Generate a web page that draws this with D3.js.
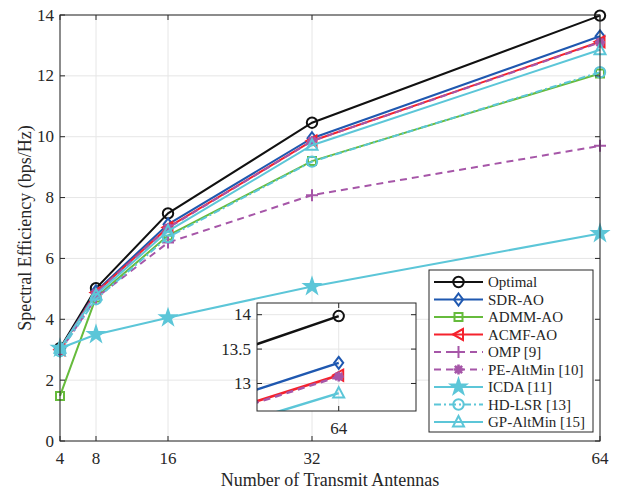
<!DOCTYPE html>
<html>
<head>
<meta charset="utf-8">
<script src="https://cdn.jsdelivr.net/npm/d3@7"></script>
<style>
  body { margin: 0; background: #fff; }
</style>
</head>
<body>
<div id="chart"></div>
<script>
// Data
const antennas = [4, 8, 16, 32, 64];
const optimal  = [3.05, 5.02, 7.48, 10.46, 13.98];
const sdrAO    = [3.0, 4.92, 7.12, 9.95, 13.3];
const admmAO   = [1.48, 4.72, 6.75, 9.2, 12.08];
const acmfAO   = [3.0, 4.88, 7.02, 9.86, 13.12];
const omp      = [2.95, 4.7, 6.52, 8.08, 9.7];
const peAltMin = [3.0, 4.86, 7.0, 9.86, 13.1];
const icda     = [3.05, 3.5, 4.05, 5.08, 6.82];
const hdLSR    = [2.95, 4.66, 6.7, 9.18, 12.12];
const gpAltMin = [3.05, 4.8, 6.9, 9.72, 12.86];

const xTicks = [4, 8, 16, 32, 64];
const yTicks = [0, 2, 4, 6, 8, 10, 12, 14];
const insetYTicks = [13, 13.5, 14];
const insetXTicks = [64];

const series = [
  {name: "Optimal",          values: optimal,  color: "#111111", dash: null,    marker: "circle"},
  {name: "SDR-AO",           values: sdrAO,    color: "#1f58b0", dash: null,    marker: "diamond"},
  {name: "ADMM-AO",          values: admmAO,   color: "#66bb3c", dash: null,    marker: "square"},
  {name: "ACMF-AO",          values: acmfAO,   color: "#f5222d", dash: null,    marker: "tri-left"},
  {name: "OMP [9]",          values: omp,      color: "#a656a8", dash: "7,5",   marker: "plus"},
  {name: "PE-AltMin [10]",   values: peAltMin, color: "#a656a8", dash: "7,5",   marker: "asterisk"},
  {name: "ICDA [11]",        values: icda,     color: "#5cc6d8", dash: null,    marker: "star"},
  {name: "HD-LSR [13]",      values: hdLSR,    color: "#5cc6d8", dash: "7,3,2,3", marker: "circle"},
  {name: "GP-AltMin [15]",   values: gpAltMin, color: "#5cc6d8", dash: null,    marker: "tri-up"}
];

const W = 622, H = 492;
const plot = {left: 60, right: 600, top: 15, bottom: 441};
const FONT = "'Liberation Serif', 'Times New Roman', Times, serif";

const svg = d3.select("#chart").append("svg")
    .attr("width", W)
    .attr("height", H)
    .attr("font-family", FONT);

const x = d3.scaleLinear().domain([4, 64]).range([plot.left, plot.right]);
const y = d3.scaleLinear().domain([0, 14]).range([plot.bottom, plot.top]);

function markerPath(type) {
  switch (type) {
    case "circle": return d3.symbol(d3.symbolCircle, 85)();
    case "square": return "M-4,-4H4V4H-4Z";
    case "diamond": return "M0,-6L4.5,0L0,6L-4.5,0Z";
    case "tri-left": return "M-5.5,0L4.5,-5.5L4.5,5.5Z";
    case "tri-up": return "M0,-6L5.5,4.5L-5.5,4.5Z";
    case "plus": return "M-6,0H6M0,-6V6";
    case "asterisk": return "M-5,0H5M0,-5V5M-3.6,-3.6L3.6,3.6M-3.6,3.6L3.6,-3.6";
    case "star": return d3.symbol(d3.symbolStar, 70)();
  }
}

function drawMarker(g, s, px, py) {
  const filled = s.marker === "star" || s.marker === "asterisk";
  g.append("path")
    .attr("transform", `translate(${px},${py})`)
    .attr("d", markerPath(s.marker))
    .attr("fill", filled ? s.color : "none")
    .attr("stroke", s.color)
    .attr("stroke-width", s.marker === "asterisk" ? 2.6 : 2);
}

function drawGrid(g, xs, ys, xt, yt) {
  const [x0, x1] = xs.range();
  const [y0, y1] = ys.range();
  g.append("g").selectAll("line").data(xt).join("line")
    .attr("x1", d => xs(d)).attr("x2", d => xs(d))
    .attr("y1", y0).attr("y2", y1)
    .attr("stroke", "#e6e6e6").attr("stroke-width", 1);
  g.append("g").selectAll("line").data(yt).join("line")
    .attr("x1", x0).attr("x2", x1)
    .attr("y1", d => ys(d)).attr("y2", d => ys(d))
    .attr("stroke", "#e6e6e6").attr("stroke-width", 1);
}

function drawFrame(g, xs, ys, xt, yt, fs, xlabOff) {
  const [x0, x1] = xs.range();
  const [y0, y1] = ys.range();
  const tl = 5;
  g.append("rect")
    .attr("x", x0).attr("y", y1)
    .attr("width", x1 - x0).attr("height", y0 - y1)
    .attr("fill", "none").attr("stroke", "#262626").attr("stroke-width", 1);
  // ticks inward on all four sides
  xt.forEach(t => {
    g.append("line").attr("x1", xs(t)).attr("x2", xs(t)).attr("y1", y0).attr("y2", y0 - tl)
      .attr("stroke", "#262626");
    g.append("line").attr("x1", xs(t)).attr("x2", xs(t)).attr("y1", y1).attr("y2", y1 + tl)
      .attr("stroke", "#262626");
  });
  yt.forEach(t => {
    g.append("line").attr("x1", x0).attr("x2", x0 + tl).attr("y1", ys(t)).attr("y2", ys(t))
      .attr("stroke", "#262626");
    g.append("line").attr("x1", x1).attr("x2", x1 - tl).attr("y1", ys(t)).attr("y2", ys(t))
      .attr("stroke", "#262626");
  });
  g.append("g").selectAll("text").data(xt).join("text")
    .attr("x", d => xs(d)).attr("y", y0 + xlabOff)
    .attr("text-anchor", "middle")
    .attr("fill", "#262626")
    .style("font-size", fs + "px")
    .text(d => d);
  g.append("g").selectAll("text").data(yt).join("text")
    .attr("x", x0 - 6).attr("y", d => ys(d) + 5.5)
    .attr("text-anchor", "end")
    .attr("fill", "#262626")
    .style("font-size", fs + "px")
    .text(d => d);
}

// Main axes
const main = svg.append("g");
drawGrid(main, x, y, xTicks, yTicks);

const line = d3.line()
  .x((d, i) => x(antennas[i]))
  .y(d => y(d));

series.forEach(s => {
  main.append("path")
    .attr("d", line(s.values))
    .attr("fill", "none")
    .attr("stroke", s.color)
    .attr("stroke-width", 2)
    .attr("stroke-dasharray", s.dash);
  s.values.forEach((v, i) => drawMarker(main, s, x(antennas[i]), y(v)));
});

drawFrame(main, x, y, xTicks, yTicks, 17, 23);

// Axis titles
svg.append("text")
  .attr("x", (plot.left + plot.right) / 2).attr("y", 486)
  .attr("text-anchor", "middle")
  .attr("fill", "#262626")
  .style("font-size", "18px")
  .text("Number of Transmit Antennas");
svg.append("text")
  .attr("transform", `translate(31,${(plot.top + plot.bottom) / 2}) rotate(-90)`)
  .attr("text-anchor", "middle")
  .attr("fill", "#262626")
  .style("font-size", "18px")
  .text("Spectral Efficiency (bps/Hz)");

// Inset zoom
const ix = d3.scaleLinear().domain([60.3, 67.5]).range([257, 416]);
const iy = d3.scaleLinear().domain([12.6, 14.17]).range([411, 303]);
const inset = svg.append("g");
inset.append("rect")
  .attr("x", 257).attr("y", 303).attr("width", 159).attr("height", 108)
  .attr("fill", "#fff");
drawGrid(inset, ix, iy, insetXTicks, insetYTicks);
svg.append("clipPath").attr("id", "insetClip")
  .append("rect").attr("x", 257).attr("y", 303).attr("width", 159).attr("height", 108);
const insetData = inset.append("g").attr("clip-path", "url(#insetClip)");
const iline = d3.line()
  .x((d, i) => ix(antennas[i]))
  .y(d => iy(d));
series.forEach(s => {
  insetData.append("path")
    .attr("d", iline(s.values))
    .attr("fill", "none")
    .attr("stroke", s.color)
    .attr("stroke-width", 2.5)
    .attr("stroke-dasharray", s.dash);
  s.values.forEach((v, i) => drawMarker(insetData, s, ix(antennas[i]), iy(v)));
});
drawFrame(inset, ix, iy, insetXTicks, insetYTicks, 17, 23);

// Legend
const lg = svg.append("g").attr("transform", "translate(429,270)");
const rowH = 17.5;
lg.append("rect")
  .attr("width", 164).attr("height", 162)
  .attr("fill", "#fff").attr("stroke", "#262626").attr("stroke-width", 1);
series.forEach((s, i) => {
  const yy = 12 + i * rowH;
  lg.append("line")
    .attr("x1", 5).attr("x2", 54).attr("y1", yy).attr("y2", yy)
    .attr("stroke", s.color).attr("stroke-width", 2)
    .attr("stroke-dasharray", s.dash);
  drawMarker(lg, s, 29.5, yy);
  lg.append("text")
    .attr("x", 59).attr("y", yy + 5)
    .attr("fill", "#262626")
    .style("font-size", "15px")
    .text(s.name);
});
</script>
</body>
</html>
